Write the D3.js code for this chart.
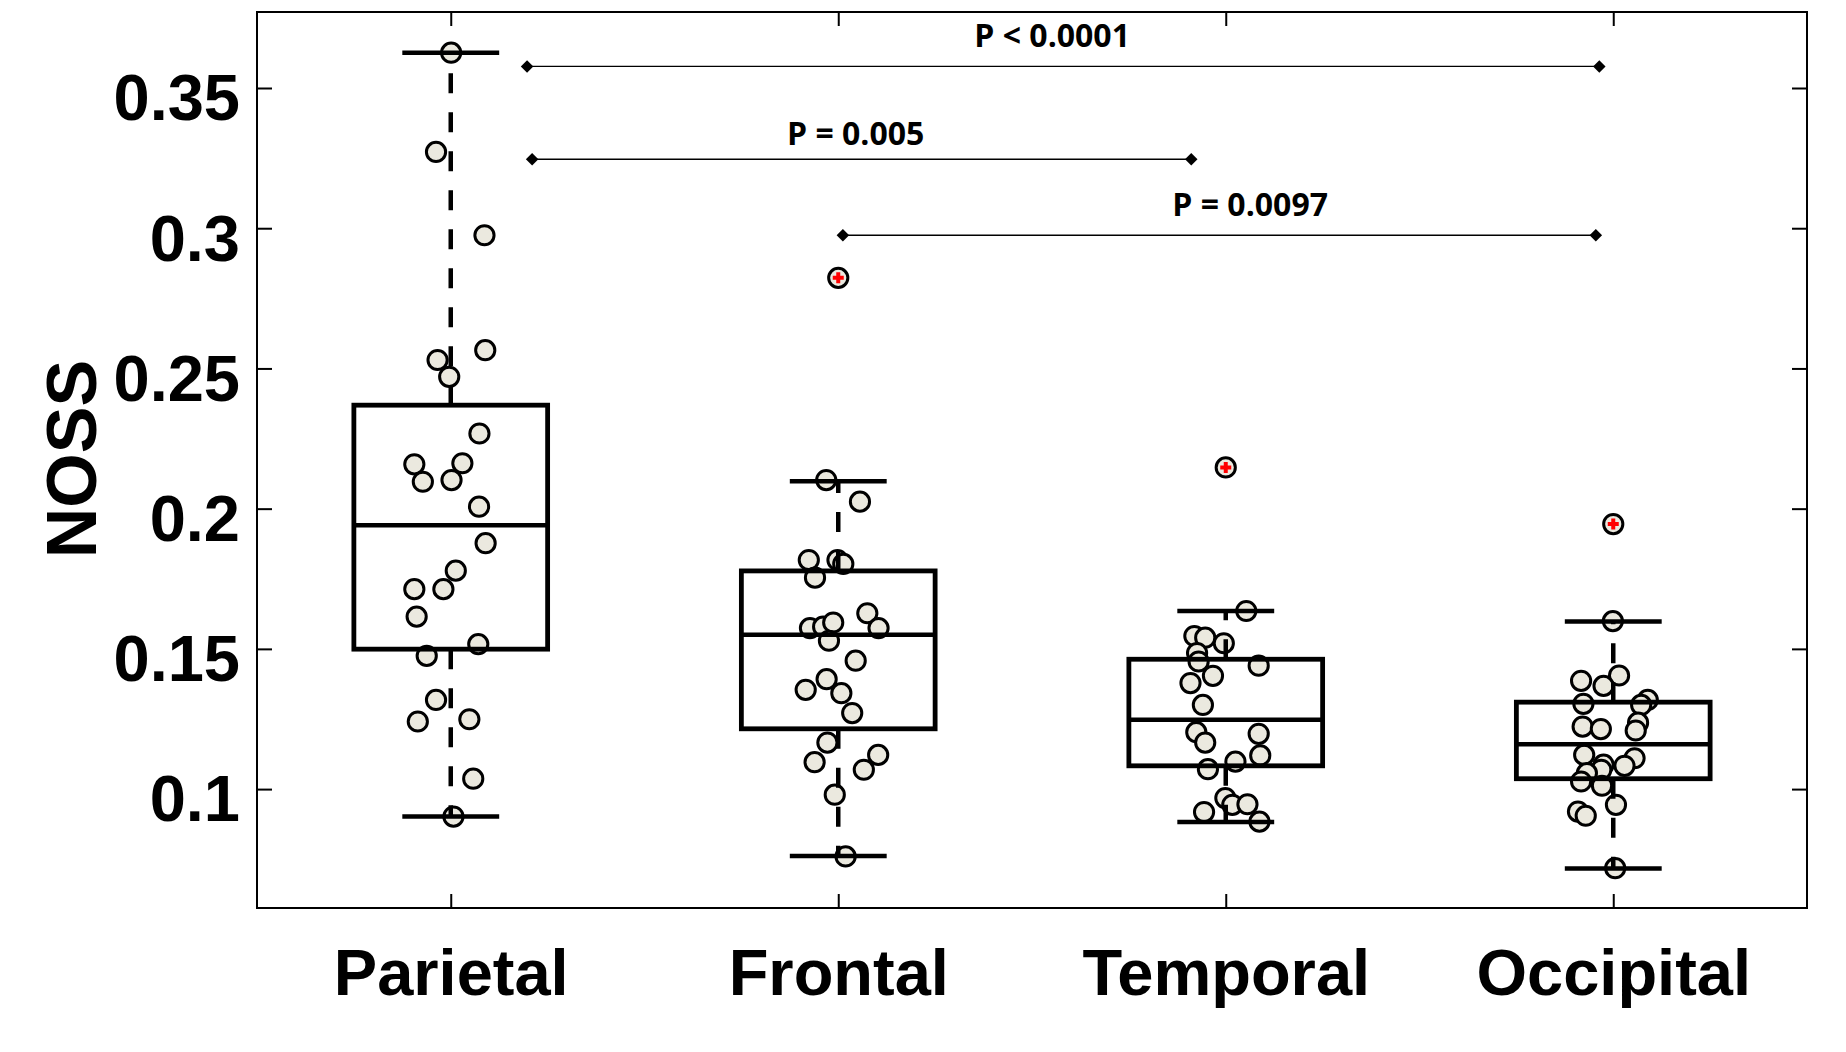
<!DOCTYPE html>
<html>
<head>
<meta charset="utf-8">
<script src="https://cdn.jsdelivr.net/npm/d3@7"></script>
<style>
  body { margin: 0; background: #fff; }
  svg { display: block; }
</style>
</head>
<body>
<div class="chart"></div>
<script>
// ---- data ----
var regions = ["Parietal", "Frontal", "Temporal", "Occipital"];
var yTicks = [0.1, 0.15, 0.2, 0.25, 0.3, 0.35];

// box statistics per region
var q1 = [0.1499, 0.1215, 0.1083, 0.1037];
var medians = [0.1941, 0.1550, 0.1247, 0.1160];
var q3 = [0.2369, 0.1778, 0.1463, 0.1310];
var whiskerLow = [0.0902, 0.0761, 0.0883, 0.0717];
var whiskerHigh = [0.3626, 0.2098, 0.1635, 0.1598];
var outliers = [[], [0.2823], [0.2147], [0.1945]];

// individual subjects (value) and their horizontal jitter (category units)
var parietalValues = [0.3626, 0.3272, 0.2975, 0.2565, 0.2530, 0.2470, 0.2268, 0.2158, 0.2162, 0.2096, 0.2102, 0.2007,
  0.1877, 0.1779, 0.1713, 0.1713, 0.1615, 0.1517, 0.1475, 0.1318, 0.1241, 0.1249, 0.1037, 0.0902];
var parietalJitter = [0.001, -0.038, 0.087, 0.089, -0.034, -0.004, 0.074, -0.094, 0.030, -0.072, 0.002, 0.073,
  0.090, 0.013, -0.094, -0.019, -0.088, 0.071, -0.062, -0.038, -0.085, 0.048, 0.058, 0.007];

var frontalValues = [0.2823, 0.2102, 0.2025, 0.1817, 0.1817, 0.1803, 0.1754, 0.1627, 0.1574, 0.1579, 0.1594, 0.1574,
  0.1529, 0.1458, 0.1392, 0.1354, 0.1342, 0.1271, 0.1166, 0.1096, 0.1122, 0.1069, 0.0980, 0.0760];
var frontalJitter = [0.0, -0.031, 0.056, -0.076, -0.002, 0.013, -0.060, 0.075, -0.073, -0.039, -0.013, 0.104,
  -0.024, 0.045, -0.030, -0.084, 0.008, 0.036, -0.028, -0.061, 0.103, 0.066, -0.009, 0.019];

var temporalValues = [0.2147, 0.1635, 0.1546, 0.1540, 0.1520, 0.1485, 0.1455, 0.1440, 0.1404, 0.1378, 0.1300,
  0.1203, 0.1166, 0.1197, 0.1120, 0.1098, 0.1071, 0.0968, 0.0944, 0.0946, 0.0918, 0.0884];
var temporalJitter = [0.0, 0.053, -0.081, -0.053, -0.005, -0.074, -0.070, 0.085, -0.033, -0.091, -0.059,
  -0.076, -0.053, 0.085, 0.089, 0.025, -0.046, -0.001, 0.017, 0.056, -0.056, 0.087];

var occipitalValues = [0.1945, 0.1599, 0.1405, 0.1386, 0.1368, 0.1318, 0.1300, 0.1304, 0.1237, 0.1209, 0.1223, 0.1214,
  0.1122, 0.1110, 0.1083, 0.1087, 0.1069, 0.1057, 0.1027, 0.1012, 0.0944, 0.0920, 0.0905, 0.0718];
var occipitalJitter = [0.0, -0.001, 0.015, -0.083, -0.025, 0.089, 0.072, -0.077, 0.064, 0.058, -0.079, -0.032,
  -0.075, 0.055, 0.029, -0.025, -0.031, -0.068, -0.083, -0.029, 0.007, -0.091, -0.071, 0.005];

// significance brackets (x in category units, level in NOSS units)
var sigLabels = ["P < 0.0001", "P = 0.005", "P = 0.0097"];
var sigFrom = [1.197, 1.210, 2.012];
var sigTo = [3.964, 2.911, 3.955];
var sigLevel = [0.3577, 0.3246, 0.2975];
var sigTextX = [2.552, 2.045, 3.063];

function drawBoxChart() {

  var W = 1846, H = 1052;
  var margin = {top: 12, right: 39, bottom: 144, left: 257},
      width = W - margin.left - margin.right,
      height = H - margin.top - margin.bottom;
  var textLift = [19, 14, 19];

  var svg = d3.select(".chart")
    .append("svg")
      .attr("width", W)
      .attr("height", H)
    .append("g")
      .attr("transform", "translate(" + margin.left + "," + margin.top + ")");

  var x = d3.scaleLinear().domain([0.5, 4.5]).range([0, width]);
  var y = d3.scaleLinear().domain([0.0576, 0.3771]).range([height, 0]);

  var tickFont = "'Liberation Sans', Arial, sans-serif";

  // axes with inward ticks, MATLAB "box on" style
  var axLeft = svg.append("g")
    .call(d3.axisLeft(y).tickValues(yTicks).tickSize(-15).tickPadding(17)
      .tickFormat(d3.format(".2~f")));
  var axRight = svg.append("g")
    .attr("transform", "translate(" + width + ",0)")
    .call(d3.axisRight(y).tickValues(yTicks).tickSize(-15).tickFormat(""));
  var axBottom = svg.append("g")
    .attr("transform", "translate(0," + height + ")")
    .call(d3.axisBottom(x).tickValues([1, 2, 3, 4]).tickSize(-14).tickPadding(41)
      .tickFormat(function(d) { return regions[d - 1]; }));
  var axTop = svg.append("g")
    .call(d3.axisTop(x).tickValues([1, 2, 3, 4]).tickSize(-14).tickFormat(""));

  [axLeft, axRight, axBottom, axTop].forEach(function(g) {
    g.select(".domain").remove();
    g.selectAll(".tick line").attr("stroke", "#000").attr("stroke-width", 2);
    g.selectAll(".tick text")
      .style("font-family", tickFont)
      .style("font-weight", "bold")
      .style("font-size", "65px")
      .attr("fill", "#000");
  });
  axLeft.selectAll(".tick text").attr("dy", "0.49em");

  // y axis title
  svg.append("text")
    .attr("transform", "translate(" + (96 - margin.left) + "," + (459 - margin.top) + ") rotate(-90)")
    .style("text-anchor", "middle")
    .style("font-family", tickFont)
    .style("font-weight", "bold")
    .style("font-size", "70px")
    .text("NOSS");

  // subject points (drawn first, boxplot sits on top)
  var allValues = [parietalValues, frontalValues, temporalValues, occipitalValues];
  var allJitter = [parietalJitter, frontalJitter, temporalJitter, occipitalJitter];
  var points = [];
  allValues.forEach(function(vals, i) {
    vals.forEach(function(v, j) {
      points.push({pos: i + 1 + allJitter[i][j], value: v});
    });
  });

  svg.selectAll(".pt")
    .data(points)
    .enter()
    .append("circle")
      .attr("class", "pt")
      .attr("cx", function(d) { return x(d.pos); })
      .attr("cy", function(d) { return y(d.value); })
      .attr("r", 9.6)
      .attr("fill", "#ebe9df")
      .attr("stroke", "#000")
      .attr("stroke-width", 3);

  // boxplots
  var boxes = regions.map(function(r, i) {
    return {pos: i + 1, q1: q1[i], med: medians[i], q3: q3[i], lo: whiskerLow[i], hi: whiskerHigh[i]};
  });

  var bg = svg.selectAll(".box")
    .data(boxes)
    .enter()
    .append("g")
      .attr("class", "box");

  // dashed whiskers
  bg.append("line")
    .attr("x1", function(d) { return x(d.pos); })
    .attr("x2", function(d) { return x(d.pos); })
    .attr("y1", function(d) { return y(d.q3); })
    .attr("y2", function(d) { return y(d.hi); })
    .attr("stroke", "#000").attr("stroke-width", 4.5)
    .attr("stroke-dasharray", "20,19");
  bg.append("line")
    .attr("x1", function(d) { return x(d.pos); })
    .attr("x2", function(d) { return x(d.pos); })
    .attr("y1", function(d) { return y(d.q1); })
    .attr("y2", function(d) { return y(d.lo); })
    .attr("stroke", "#000").attr("stroke-width", 4.5)
    .attr("stroke-dasharray", "20,19");

  // whisker caps
  ["hi", "lo"].forEach(function(k) {
    bg.append("line")
      .attr("x1", function(d) { return x(d.pos - 0.125); })
      .attr("x2", function(d) { return x(d.pos + 0.125); })
      .attr("y1", function(d) { return y(d[k]); })
      .attr("y2", function(d) { return y(d[k]); })
      .attr("stroke", "#000").attr("stroke-width", 4.5);
  });

  // box
  bg.append("rect")
    .attr("x", function(d) { return x(d.pos - 0.25); })
    .attr("y", function(d) { return y(d.q3); })
    .attr("width", function(d) { return x(d.pos + 0.25) - x(d.pos - 0.25); })
    .attr("height", function(d) { return y(d.q1) - y(d.q3); })
    .attr("fill", "none")
    .attr("stroke", "#000").attr("stroke-width", 4.8);

  // median
  bg.append("line")
    .attr("x1", function(d) { return x(d.pos - 0.25); })
    .attr("x2", function(d) { return x(d.pos + 0.25); })
    .attr("y1", function(d) { return y(d.med); })
    .attr("y2", function(d) { return y(d.med); })
    .attr("stroke", "#000").attr("stroke-width", 4.5);

  // outlier markers (red +)
  var outPts = [];
  outliers.forEach(function(list, i) {
    list.forEach(function(v) { outPts.push({pos: i + 1, value: v}); });
  });
  svg.selectAll(".outlier")
    .data(outPts)
    .enter()
    .append("path")
      .attr("class", "outlier")
      .attr("d", function(d) {
        var cx = x(d.pos), cy = y(d.value), s = 5.5;
        return "M" + (cx - s) + "," + cy + "H" + (cx + s) + "M" + cx + "," + (cy - s) + "V" + (cy + s);
      })
      .attr("stroke", "#ff0000")
      .attr("stroke-width", 4);

  // significance brackets
  var sig = sigLabels.map(function(l, i) {
    return {label: l, from: sigFrom[i], to: sigTo[i], level: sigLevel[i], tx: sigTextX[i], lift: textLift[i]};
  });

  var sg = svg.selectAll(".sig")
    .data(sig)
    .enter()
    .append("g")
      .attr("class", "sig");

  sg.append("line")
    .attr("x1", function(d) { return x(d.from); })
    .attr("x2", function(d) { return x(d.to); })
    .attr("y1", function(d) { return y(d.level); })
    .attr("y2", function(d) { return y(d.level); })
    .attr("stroke", "#000").attr("stroke-width", 1.4);

  var diamond = d3.symbol().type(d3.symbolSquare).size(78);
  ["from", "to"].forEach(function(k) {
    sg.append("path")
      .attr("d", diamond)
      .attr("transform", function(d) {
        return "translate(" + x(d[k]) + "," + y(d.level) + ") rotate(45)";
      })
      .attr("fill", "#000");
  });

  sg.append("text")
    .attr("x", function(d) { return x(d.tx); })
    .attr("y", function(d) { return y(d.level) - d.lift; })
    .style("text-anchor", "middle")
    .style("font-family", "'Open Sans', sans-serif")
    .style("font-weight", "bold")
    .style("font-size", "32px")
    .text(function(d) { return d.label; });

  // frame
  svg.append("rect")
    .attr("width", width)
    .attr("height", height)
    .attr("fill", "none")
    .attr("stroke", "#000")
    .attr("stroke-width", 2);
}

drawBoxChart();
</script>
</body>
</html>
